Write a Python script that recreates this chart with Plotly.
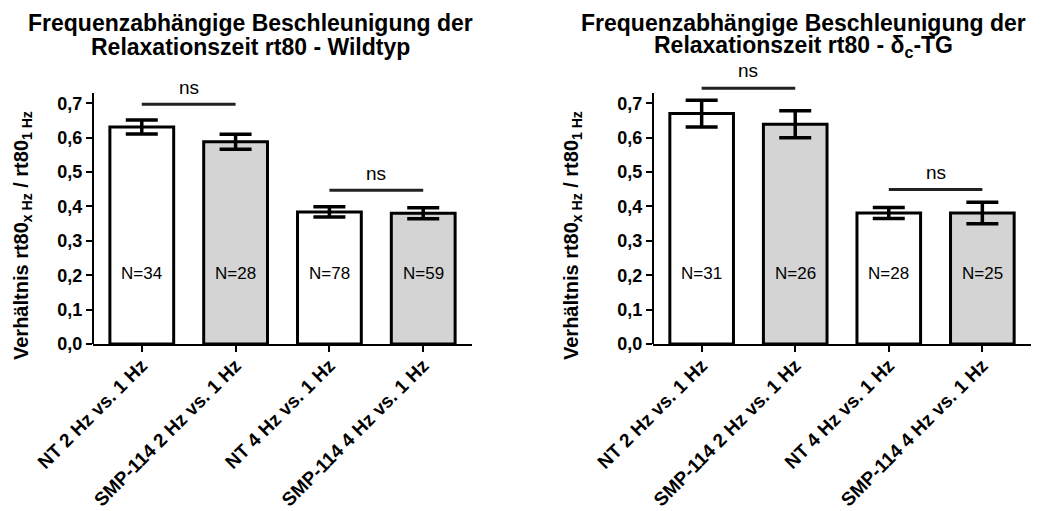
import plotly.graph_objects as go
from plotly.subplots import make_subplots

# Data
categories = ["NT 2 Hz vs. 1 Hz", "SMP-114 2 Hz vs. 1 Hz",
              "NT 4 Hz vs. 1 Hz", "SMP-114 4 Hz vs. 1 Hz"]
wt_mean = [0.631, 0.588, 0.384, 0.380]
wt_err = [0.020, 0.022, 0.015, 0.016]
wt_n = [34, 28, 78, 59]
tg_mean = [0.670, 0.639, 0.381, 0.381]
tg_err = [0.039, 0.039, 0.016, 0.031]
tg_n = [31, 26, 28, 25]
# "ns" comparison bars: (left index, right index, height)
wt_ns = [(0, 1, 0.697), (2, 3, 0.447)]
tg_ns = [(0, 1, 0.744), (2, 3, 0.449)]
y_ticks = [0.0, 0.1, 0.2, 0.3, 0.4, 0.5, 0.6, 0.7]

title_lines = [
    ["Frequenzabhängige Beschleunigung der", "Relaxationszeit rt80 - Wildtyp"],
    ["Frequenzabhängige Beschleunigung der", "Relaxationszeit rt80 - δ<sub>c</sub>-TG"],
]
y_title = "Verhältnis rt80<sub>x Hz</sub> / rt80<sub>1 Hz</sub>"

FILLS = ["white", "#d4d4d4", "white", "#d4d4d4"]
FONT = "Liberation Sans, Arial, sans-serif"
# the page body adds an 8px margin, so the figure is drawn 8px smaller
OFF = 8
W, H = 1048 - OFF, 511 - OFF


def px(x):
    return (x - OFF) / W


def py(y):
    return 1 - (y - OFF) / H


fig = make_subplots(rows=1, cols=2)
xs = list(range(len(categories)))

panels = [(wt_mean, wt_err, wt_n, wt_ns), (tg_mean, tg_err, tg_n, tg_ns)]
for col, (mean, err, n, ns) in enumerate(panels, start=1):
    fig.add_trace(go.Bar(
        x=xs, y=mean, width=0.68,
        marker=dict(color=FILLS, line=dict(color="black", width=3)),
        error_y=dict(type="data", array=err, color="black", thickness=3.5, width=16),
        showlegend=False
    ), row=1, col=col)
    xref = "x" if col == 1 else "x2"
    yref = "y" if col == 1 else "y2"
    for i, cnt in enumerate(n):
        fig.add_annotation(x=i, y=0.205, xref=xref, yref=yref, text=f"N={cnt}",
                           showarrow=False, font=dict(size=17, color="black", family=FONT))
    for a, b, h in ns:
        fig.add_trace(go.Scatter(
            x=[a, b], y=[h, h], mode="lines",
            line=dict(color="#222222", width=3), showlegend=False, hoverinfo="skip"
        ), row=1, col=col)
        fig.add_annotation(x=(a + b) / 2, y=h + 0.05, xref=xref, yref=yref, text="ns",
                           showarrow=False, font=dict(size=19, color="black", family=FONT))
    # vertical axis line stops near the top tick
    fig.add_shape(type="line", xref=f"{xref} domain", yref=yref, x0=0, x1=0, y0=0, y1=0.73,
                  line=dict(color="black", width=2))

axis_common_x = dict(
    tickvals=xs, ticktext=categories, range=[-0.52, 3.52], tickangle=-45,
    showline=True, linecolor="black", linewidth=2, ticks="outside", ticklen=6,
    tickwidth=2, tickcolor="black", showgrid=False, zeroline=False, automargin=False,
    ticklabelstandoff=-5,
    tickfont=dict(size=19, color="black", family=FONT, weight="bold")
)
axis_common_y = dict(
    range=[0, 0.82], tickvals=y_ticks, tickformat=".1f", showline=False,
    ticks="outside", ticklen=6, tickwidth=2, tickcolor="black",
    showgrid=False, zeroline=False, automargin=False,
    domain=[py(344), py(62)],
    tickfont=dict(size=18, color="black", family=FONT, weight="bold")
)
fig.update_layout(
    xaxis=dict(domain=[px(93), px(472)], **axis_common_x),
    xaxis2=dict(domain=[px(653), px(1031)], **axis_common_x),
    yaxis=axis_common_y,
    yaxis2=axis_common_y,
)

for xc, lines in zip([250, 803], title_lines):
    for yc, line in zip([23, 47], lines):
        fig.add_annotation(x=px(xc), y=py(yc), xref="paper", yref="paper",
                           xanchor="center", yanchor="middle",
                           text=f"<b>{line}</b>", showarrow=False,
                           font=dict(size=23, color="black", family=FONT))
for xc in [22, 572]:
    fig.add_annotation(x=px(xc), y=py(236), xref="paper", yref="paper",
                       xanchor="center", yanchor="middle",
                       text=f"<b>{y_title}</b>", textangle=-90, showarrow=False,
                       font=dict(size=20, color="black", family=FONT))

fig.update_layout(
    width=W, height=H,
    margin=dict(l=0, r=0, t=0, b=0),
    separators=",.",
    plot_bgcolor="white",
    paper_bgcolor="white",
    font=dict(family=FONT, color="black"),
)

fig.write_html("out.html")
